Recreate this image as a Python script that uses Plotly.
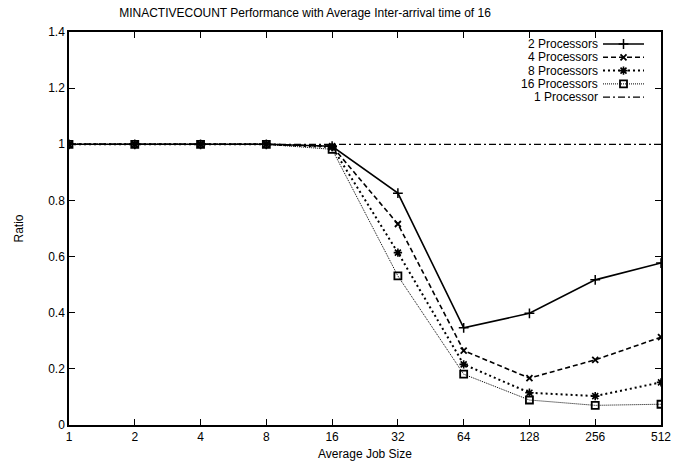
import plotly.graph_objects as go

job_sizes = [1, 2, 4, 8, 16, 32, 64, 128, 256, 512]
tick_labels = ["1", "2", "4", "8", "16", "32", "64", "128", "256", "512"]
p2 = [1, 1, 1, 1, 0.993, 0.826, 0.346, 0.398, 0.517, 0.577]
p4 = [1, 1, 1, 1, 0.993, 0.716, 0.265, 0.167, 0.232, 0.313]
p8 = [1, 1, 1, 1, 0.990, 0.614, 0.216, 0.115, 0.103, 0.152]
p16 = [1, 1, 1, 1, 0.982, 0.531, 0.181, 0.089, 0.070, 0.074]
p1 = [1, 1, 1, 1, 1, 1, 1, 1, 1, 1]

names = ["2 Processors", "4 Processors", "8 Processors", "16 Processors", "1 Processor"]
series = [p2, p4, p8, p16, p1]
styles = [
    dict(dash="solid", width=1.6, symbol="cross-thin", msize=7, mlw=1.5),
    dict(dash="5px,3px", width=1.6, symbol="x-thin", msize=6, mlw=1.8),
    dict(dash="2px,3px", width=2.0, symbol="asterisk", msize=7, mlw=1.6),
    dict(dash="1px,1px", width=1.0, symbol="square-open", msize=7, mlw=1.8),
    dict(dash="7px,3px,2px,3px", width=1.2, symbol=None, msize=0, mlw=0),
]

FONT = "Liberation Sans, Arial, Helvetica, sans-serif"
W, H = 675, 470
fig = go.Figure()

def mk(st):
    return dict(symbol=st["symbol"], size=st["msize"], color="black",
                line=dict(color="black", width=st["mlw"]))

for name, ys, st in zip(names, series, styles):
    mode = "lines+markers" if st["symbol"] else "lines"
    fig.add_trace(go.Scatter(x=job_sizes, y=ys, mode=mode, name=name,
                             line=dict(color="black", width=st["width"], dash=st["dash"]),
                             marker=mk(st) if st["symbol"] else None, showlegend=False))

# custom legend (gnuplot style: text then sample), in pixel-like overlay axis
row_y = [44, 57.3, 70.6, 83.9, 97.2]
for name, st, yy in zip(names, styles, row_y):
    fig.add_trace(go.Scatter(x=[603, 644], y=[yy, yy], mode="lines", xaxis="x2", yaxis="y2",
                             line=dict(color="black", width=st["width"], dash=st["dash"]),
                             showlegend=False, hoverinfo="skip"))
    if st["symbol"]:
        fig.add_trace(go.Scatter(x=[623.5], y=[yy], mode="markers", xaxis="x2", yaxis="y2",
                                 marker=mk(st), showlegend=False, hoverinfo="skip"))
    fig.add_annotation(x=600, y=yy, xref="x2", yref="y2", text=name, showarrow=False,
                       xanchor="right", yanchor="middle", font=dict(family=FONT, size=12, color="black"))

fig.update_layout(
    width=W, height=H,
    margin=dict(l=69, r=14, t=32, b=45, autoexpand=False),
    paper_bgcolor="white", plot_bgcolor="white",
    font=dict(family=FONT, size=12, color="black"),
    title=dict(text="MINACTIVECOUNT Performance with Average Inter-arrival time of 16",
               x=305 / W, xanchor="center", y=1 - 13 / H, yanchor="middle",
               xref="container", yref="container", font=dict(family=FONT, size=12)),
    xaxis=dict(type="log", range=[0, 2.70927], tickvals=job_sizes, ticktext=tick_labels,
               ticks="inside", ticklen=6, tickcolor="black", mirror="ticks", automargin=False,
               showline=True, linecolor="black", linewidth=1.5, showgrid=False, zeroline=False,
               title=dict(text="Average Job Size", standoff=6, font=dict(size=12))),
    yaxis=dict(range=[0, 1.4], tickvals=[0, 0.2, 0.4, 0.6, 0.8, 1.0, 1.2, 1.4],
               ticktext=["0", "0.2", "0.4", "0.6", "0.8", "1", "1.2", "1.4"],
               ticks="inside", ticklen=6, tickcolor="black", mirror="ticks", automargin=False,
               showline=True, linecolor="black", linewidth=1.5, showgrid=False, zeroline=False,
               title=dict(text="Ratio", standoff=22, font=dict(size=12))),
    xaxis2=dict(range=[69, 661], overlaying="x", visible=False, fixedrange=True),
    yaxis2=dict(range=[425, 32], overlaying="y", visible=False, fixedrange=True),
)

fig.write_html("out.html", config={"displayModeBar": False},
               post_script="document.body.style.margin='0';document.body.style.overflow='hidden';")
